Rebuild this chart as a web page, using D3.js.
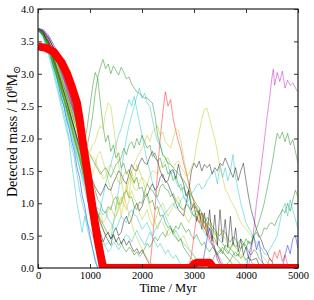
<!DOCTYPE html>
<html>
<head>
<meta charset="utf-8">
<script src="https://cdn.jsdelivr.net/npm/d3@7"></script>
<style>
  body { margin: 0; background: #fff; }
  svg text { font-family: "Liberation Serif", "DejaVu Serif", serif; fill: #000; }
</style>
</head>
<body>
<div id="graf"></div>
<script>
// axis ticks
const xTicks = [0, 1000, 2000, 3000, 4000, 5000]
const yTicks = [0, 0.5, 1, 1.5, 2, 2.5, 3, 3.5, 4]

// individual runs, [time (Myr), detected mass (1e8 Msun)]
const b1 = [[0,3.68],[100,3.64],[150,3.55],[200,3.38],[250,3.3],[300,3.1],[350,3.02],[400,2.8],[450,2.6],[500,2.5],[550,2.28],[600,2.15],[650,1.95],[700,1.8],[750,1.55],[800,1.4],[850,1.12],[900,0.95],[950,0.7],[1000,0.5],[1050,0.3],[1100,0.1],[1150,0]]
const b2 = [[0,3.7],[100,3.66],[200,3.52],[300,3.3],[400,3.12],[500,2.9],[600,2.62],[700,2.38],[800,2.0],[900,1.55],[1000,1.05],[1100,0.55],[1150,0.3],[1200,0.05],[1250,0],[3150,0],[3200,0.22],[3250,0.45],[3300,0.62],[3350,0.38],[3400,0.3],[3450,0.12],[3500,0.05],[3550,0],[4000,0],[4050,0.18],[4100,0.35],[4150,0.5],[4200,0.28],[4250,0.42],[4300,0.15],[4350,0],[4700,0],[4750,0.2],[4800,0.35],[4850,0.22],[4900,0.45],[4950,0.5],[5000,0.3]]
const b3 = [[0,3.7],[100,3.68],[200,3.6],[300,3.45],[400,3.3],[500,3.1],[600,2.9],[700,2.65],[800,2.35],[900,2.0],[1000,1.5],[1050,1.15],[1100,0.8],[1150,0.45],[1200,0.2],[1250,0]]
const g1 = [[0,3.7],[100,3.64],[200,3.5],[300,3.3],[400,3.1],[500,2.85],[600,2.6],[700,2.35],[800,2.15],[850,1.95],[900,1.85],[950,1.9],[1000,2.1],[1050,2.35],[1100,2.7],[1150,2.95],[1200,3.1],[1250,3.22],[1300,3.08],[1350,3.15],[1400,3.0],[1450,3.12],[1500,3.05],[1550,2.98],[1600,3.1],[1650,3.02],[1700,2.92],[1750,2.95],[1800,2.84],[1850,2.78],[1900,2.72],[1950,2.7],[2000,2.66],[2050,2.62],[2100,2.63],[2150,2.58],[2200,2.55],[2250,2.35],[2300,2.05],[2350,1.9],[2400,1.74],[2450,1.7],[2500,1.62],[2550,1.6],[2600,1.55],[2650,1.5],[2700,1.46],[2750,1.4],[2800,1.36],[2850,1.28],[2900,1.2],[2950,1.12],[3000,1.05],[3050,0.98],[3100,0.93],[3150,0.85],[3200,0.78],[3250,0.72],[3300,0.66],[3350,0.6],[3400,0.55],[3450,0.48],[3500,0.42],[3550,0.38],[3600,0.32],[3650,0.26],[3700,0.22],[3750,0.18],[3800,0.14],[3850,0.1],[3900,0.05],[3950,0]]
const g2 = [[0,3.7],[100,3.6],[200,3.42],[300,3.2],[400,3.0],[500,2.78],[600,2.5],[700,2.25],[800,2.05],[850,1.9],[900,1.95],[950,2.2],[1000,2.5],[1050,2.8],[1100,3.02],[1150,2.92],[1200,2.55],[1250,2.2],[1300,1.95],[1350,2.05],[1400,1.8],[1450,1.9],[1500,1.7],[1550,1.78],[1600,1.55],[1650,1.62],[1700,1.45],[1750,1.52],[1800,1.4],[1850,1.32],[1900,1.4],[1950,1.22],[2000,1.25],[2050,1.1],[2100,1.15],[2150,1.0],[2200,1.05],[2250,0.9],[2300,0.95],[2350,0.8],[2400,0.82],[2450,0.7],[2500,0.62],[2550,0.65],[2600,0.52],[2700,0.42],[2750,0.45],[2800,0.32],[2900,0.2],[3000,0.1],[3100,0]]
const g3 = [[0,3.66],[100,3.6],[200,3.4],[300,3.15],[400,2.9],[500,2.6],[600,2.3],[700,2.0],[800,1.7],[900,1.3],[1000,0.85],[1100,0.4],[1200,0.1],[1250,0],[3300,0],[3350,0.1],[3400,0.2],[3500,0.28],[3550,0.22],[3600,0.35],[3700,0.3],[3750,0.4],[3800,0.32],[3900,0.45],[3950,0.38],[4000,0.3],[4050,0.42],[4100,0.35],[4150,0.5],[4200,0.6],[4250,0.72],[4300,0.85],[4350,1.0],[4400,1.2],[4450,1.4],[4500,1.6],[4550,1.85],[4600,2.08],[4650,2.0],[4700,2.1],[4750,1.95],[4800,2.08],[4850,1.9],[4900,1.98],[4950,1.8],[5000,1.62]]
const g4 = [[0,3.69],[100,3.62],[200,3.45],[300,3.22],[400,2.95],[500,2.7],[600,2.42],[700,2.15],[800,1.85],[900,1.6],[1000,1.4],[1050,1.3],[1100,1.2],[1150,1.05],[1200,1.0],[1250,0.88],[1300,0.85],[1350,0.95],[1400,0.9],[1450,1.05],[1500,1.1],[1550,0.98],[1600,1.0],[1650,1.15],[1700,1.2],[1750,1.08],[1800,1.1],[1850,0.95],[1900,0.9],[1950,1.02],[2000,1.0],[2050,1.18],[2100,1.3],[2150,1.22],[2200,1.2],[2250,1.12],[2300,1.1],[2350,1.25],[2400,1.3],[2450,1.22],[2500,1.2],[2550,1.1],[2600,1.15],[2650,1.05],[2700,1.0],[2750,0.92],[2800,0.9],[2850,0.98],[2900,0.95],[2950,0.85],[3000,0.8],[3050,0.88],[3100,0.85],[3150,0.75],[3200,0.7],[3250,0.78],[3300,0.75],[3350,0.65],[3400,0.6],[3450,0.52],[3500,0.5],[3550,0.58],[3600,0.55],[3650,0.45],[3700,0.4],[3750,0.48],[3800,0.45],[3850,0.35],[3900,0.3],[3950,0.38],[4000,0.35],[4050,0.25],[4100,0.2],[4150,0.28],[4200,0.25],[4250,0.15],[4300,0.1],[4350,0.05],[4400,0]]
const g5 = [[0,3.7],[100,3.58],[200,3.38],[300,3.1],[400,2.85],[500,2.6],[600,2.38],[700,2.1],[800,1.8],[900,1.45],[1000,1.1],[1100,0.7],[1200,0.35],[1300,0.1],[1350,0],[3600,0],[3650,0.08],[3700,0.12],[3750,0.2],[3800,0.25],[3850,0.18],[3900,0.3],[3950,0.35],[4000,0.45],[4050,0.38],[4100,0.4],[4150,0.5],[4200,0.55],[4250,0.48],[4300,0.5],[4350,0.62],[4400,0.6],[4450,0.68],[4500,0.7],[4550,0.65],[4600,0.75],[4650,0.82],[4700,0.9],[4750,0.85],[4800,1.0],[4850,0.88],[4900,1.05],[4950,1.2],[5000,1.1]]
const g6 = [[0,3.68],[100,3.62],[200,3.48],[300,3.25],[400,3.05],[500,2.8],[600,2.55],[700,2.3],[800,2.1],[900,1.9],[1000,1.75],[1100,1.6],[1200,1.45],[1300,1.55],[1400,1.4],[1500,1.6],[1600,1.7],[1650,1.85],[1700,1.75],[1750,1.9],[1800,1.95],[1850,1.85],[1900,2.0],[1950,1.9],[2000,2.05],[2050,1.95],[2100,1.85],[2150,1.9],[2200,1.72],[2250,1.78],[2300,1.65],[2350,1.7],[2400,1.55],[2450,1.6],[2500,1.45],[2550,1.5],[2600,1.35],[2650,1.42],[2700,1.3],[2750,1.2],[2800,1.25],[2850,1.1],[2900,1.15],[2950,1.0],[3000,0.92],[3050,0.95],[3100,0.82],[3150,0.85],[3200,0.7],[3250,0.65],[3300,0.6],[3350,0.5],[3400,0.45],[3450,0.35],[3500,0.3],[3600,0.2],[3700,0.1],[3800,0]]
const g7 = [[0,3.66],[100,3.62],[200,3.5],[300,3.35],[400,3.18],[500,2.95],[600,2.72],[700,2.45],[800,2.15],[900,1.8],[1000,1.35],[1050,1.05],[1100,0.75],[1150,0.45],[1200,0.2],[1250,0]]
const g8 = [[0,3.68],[100,3.6],[200,3.45],[300,3.2],[400,2.95],[500,2.65],[600,2.35],[700,2.05],[800,1.75],[900,1.45],[1000,1.2],[1100,0.95],[1200,0.75],[1300,0.6],[1350,0.52],[1400,0.45],[1450,0.5],[1500,0.42],[1550,0.35],[1600,0.4],[1650,0.3],[1700,0.25],[1750,0.32],[1800,0.28],[1850,0.2],[1900,0.25],[1950,0.18],[2000,0.22],[2050,0.3],[2100,0.38],[2150,0.32],[2200,0.4],[2250,0.48],[2300,0.42],[2350,0.5],[2400,0.55],[2450,0.48],[2500,0.58],[2550,0.62],[2600,0.55],[2650,0.65],[2700,0.6],[2750,0.7],[2800,0.62],[2850,0.55],[2900,0.6],[2950,0.5],[3000,0.45],[3050,0.52],[3100,0.42],[3150,0.35],[3200,0.4],[3250,0.3],[3300,0.25],[3350,0.32],[3400,0.28],[3450,0.2],[3500,0.25],[3550,0.32],[3600,0.28],[3650,0.22],[3700,0.3],[3750,0.25],[3800,0.18],[3850,0.22],[3900,0.15],[3950,0.2],[4000,0.12],[4050,0.18],[4100,0.1],[4150,0.05],[4200,0]]
const y1 = [[0,3.7],[100,3.62],[200,3.45],[300,3.25],[400,3.0],[500,2.75],[600,2.5],[700,2.3],[800,2.1],[900,1.92],[950,1.85],[1000,1.8],[1050,1.9],[1100,1.95],[1150,2.1],[1200,2.2],[1250,2.15],[1300,2.4],[1350,2.55],[1400,2.5],[1450,2.2],[1500,1.9],[1550,1.6],[1600,1.35],[1650,1.15],[1700,0.95],[1750,0.85],[1800,0.7],[1850,0.55],[1900,0.48],[1950,0.38],[2000,0.3],[2100,0.15],[2200,0.05],[2300,0]]
const y2 = [[0,3.68],[100,3.6],[200,3.42],[300,3.2],[400,2.95],[500,2.7],[600,2.45],[700,2.2],[800,2.0],[900,1.85],[1000,1.75],[1100,1.68],[1150,1.55],[1200,1.5],[1250,1.38],[1300,1.4],[1350,1.55],[1400,1.6],[1450,1.5],[1500,1.45],[1550,1.32],[1600,1.3],[1650,1.45],[1700,1.5],[1750,1.4],[1800,1.35],[1850,1.22],[1900,1.2],[1950,1.32],[2000,1.4],[2050,1.35],[2100,1.3],[2150,1.42],[2200,1.5],[2250,1.48],[2300,1.45],[2350,1.55],[2400,1.6],[2450,1.68],[2500,1.7],[2550,1.6],[2600,1.55],[2650,1.62],[2700,1.65],[2750,1.55],[2800,1.5],[2850,1.42],[2900,1.45],[2950,1.55],[3000,1.65],[3050,1.9],[3100,2.1],[3150,2.3],[3200,2.45],[3250,2.47],[3300,2.3],[3350,2.15],[3400,2.0],[3450,1.8],[3500,1.55],[3550,1.4],[3600,1.22],[3650,1.15],[3700,1.05],[3750,0.98],[3800,0.9],[3850,0.8],[3900,0.7],[3950,0.65],[4000,0.6],[4050,0.55],[4100,0.5],[4150,0.42],[4200,0.35],[4250,0.28],[4300,0.2],[4350,0.15],[4400,0.1],[4450,0.05],[4500,0]]
const y3 = [[0,3.7],[100,3.66],[200,3.5],[300,3.3],[400,3.08],[500,2.82],[600,2.55],[700,2.25],[800,1.95],[900,1.6],[1000,1.3],[1050,1.45],[1100,1.6],[1150,1.75],[1200,1.8],[1250,1.65],[1300,1.5],[1350,1.35],[1400,1.2],[1450,1.05],[1500,0.9],[1550,1.1],[1600,0.8],[1650,1.0],[1700,1.3],[1750,1.1],[1800,1.5],[1850,1.3],[1900,1.6],[1950,1.5],[2000,1.4],[2050,1.25],[2100,1.1],[2150,0.95],[2200,0.8],[2250,0.7],[2300,0.6],[2350,0.72],[2400,0.7],[2450,0.6],[2500,0.5],[2550,0.55],[2600,0.6],[2650,0.5],[2700,0.4],[2750,0.45],[2800,0.5],[2850,0.4],[2900,0.3],[2950,0.25],[3000,0.2],[3050,0.1],[3100,0]]
const y4 = [[0,3.68],[100,3.6],[200,3.44],[300,3.2],[400,2.92],[500,2.62],[600,2.3],[700,1.98],[800,1.7],[900,1.45],[1000,1.2],[1100,0.9],[1200,0.7],[1300,0.5],[1400,0.6],[1500,0.8],[1600,1.0],[1700,1.2],[1800,1.5],[1900,1.7],[2000,1.85],[2050,1.95],[2100,2.05],[2150,1.95],[2200,2.1],[2250,2.15],[2300,2.2],[2350,2.05],[2400,2.1],[2450,1.95],[2500,1.9],[2550,1.85],[2600,2.0],[2650,2.15],[2700,2.12],[2750,1.95],[2800,1.7],[2850,1.5],[2900,1.3],[2950,1.15],[3000,1.0],[3100,0.8],[3200,0.62],[3300,0.5],[3400,0.4],[3500,0.3],[3600,0.2],[3700,0.1],[3800,0]]
const y5 = [[0,3.7],[100,3.68],[200,3.58],[300,3.42],[400,3.25],[500,3.05],[600,2.85],[700,2.6],[800,2.3],[900,2.05],[950,1.85],[1000,1.6],[1050,1.3],[1100,1.0],[1150,0.7],[1200,0.45],[1250,0.22],[1300,0.05],[1350,0]]
const y6 = [[0,3.7],[100,3.6],[200,3.4],[300,3.15],[400,2.88],[500,2.6],[600,2.3],[700,2.0],[800,1.7],[900,1.4],[1000,1.15],[1050,1.0],[1100,0.92],[1150,0.8],[1200,0.85],[1250,0.7],[1300,0.75],[1350,0.9],[1400,0.95],[1450,0.82],[1500,0.8],[1550,0.95],[1600,1.1],[1650,0.98],[1700,0.9],[1750,1.05],[1800,1.2],[1850,1.08],[1900,1.0],[1950,0.85],[2000,0.75],[2050,0.82],[2100,0.9],[2150,0.75],[2200,0.65],[2250,0.72],[2300,0.85],[2350,0.95],[2400,1.0],[2450,0.9],[2500,0.8],[2550,0.88],[2600,0.95],[2650,1.05],[2700,1.1],[2750,0.98],[2800,0.85],[2850,0.78],[2900,0.7],[2950,0.8],[3000,0.9],[3050,0.82],[3100,0.75],[3150,0.68],[3200,0.6],[3250,0.65],[3300,0.7],[3350,0.6],[3400,0.5],[3450,0.55],[3500,0.6],[3550,0.52],[3600,0.45],[3650,0.38],[3700,0.3],[3750,0.35],[3800,0.32],[3850,0.25],[3900,0.2],[3950,0.15],[4000,0.1],[4050,0.05],[4100,0]]
const c1 = [[0,3.7],[100,3.62],[200,3.4],[300,3.15],[400,2.85],[500,2.55],[600,2.25],[700,1.95],[800,1.65],[900,1.35],[1000,1.05],[1100,0.8],[1200,0.55],[1250,0.42],[1300,0.35],[1350,0.4],[1400,0.45],[1450,0.7],[1500,0.95],[1550,1.2],[1600,1.5],[1650,1.75],[1700,2.0],[1750,2.2],[1800,2.35],[1850,2.5],[1900,2.65],[1950,2.78],[2000,2.62],[2050,2.7],[2100,2.55],[2150,2.5],[2200,2.3],[2250,2.1],[2300,1.95],[2350,1.9],[2400,1.75],[2450,1.7],[2500,1.6],[2550,1.45],[2600,1.5],[2650,1.35],[2700,1.25],[2750,1.3],[2800,1.1],[2850,1.05],[2900,0.95],[2950,0.9],[3000,0.8],[3050,0.78],[3100,0.7],[3150,0.62],[3200,0.55],[3250,0.48],[3300,0.4],[3350,0.35],[3400,0.3],[3450,0.22],[3500,0.15],[3550,0.08],[3600,0]]
const c2 = [[0,3.69],[100,3.6],[200,3.4],[300,3.12],[400,2.8],[500,2.48],[600,2.15],[700,1.85],[800,1.55],[900,1.3],[1000,1.1],[1100,0.95],[1200,0.9],[1250,0.82],[1300,0.88],[1350,0.75],[1400,0.7],[1450,0.62],[1500,0.6],[1550,0.7],[1600,0.8],[1650,0.75],[1700,0.7],[1750,0.85],[1800,0.9],[1850,0.82],[1900,0.8],[1950,0.7],[2000,0.6],[2050,0.65],[2100,0.7],[2150,0.6],[2200,0.5],[2250,0.58],[2300,0.65],[2350,0.72],[2400,0.8],[2450,0.85],[2500,0.9],[2550,0.95],[2600,1.0],[2650,0.92],[2700,0.95],[2750,1.05],[2800,1.1],[2850,1.02],[2900,1.05],[2950,1.15],[3000,1.2],[3050,1.28],[3100,1.3],[3150,1.22],[3200,1.25],[3250,1.35],[3300,1.4],[3350,1.48],[3400,1.5],[3450,1.3],[3500,1.6],[3550,1.4],[3600,1.55],[3650,1.35],[3700,1.5],[3750,1.75],[3800,1.4],[3850,1.2],[3900,1.0],[3950,0.85],[4000,0.7],[4050,0.62],[4100,0.55],[4150,0.45],[4200,0.4],[4250,0.35],[4300,0.3],[4350,0.22],[4400,0.2],[4450,0.28],[4500,0.35],[4550,0.42],[4600,0.5],[4650,0.7],[4700,0.9],[4750,1.0],[4800,0.8],[4850,1.05],[4900,0.9],[4950,0.75],[5000,0.6]]
const c3 = [[0,3.7],[100,3.55],[200,3.3],[300,3.0],[400,2.65],[500,2.3],[600,1.95],[650,1.6],[700,1.3],[750,1.0],[800,0.78],[850,0.55],[900,0.8],[950,0.6],[1000,0.45],[1050,0.3],[1100,0.15],[1150,0]]
const c4 = [[0,3.68],[100,3.58],[200,3.36],[300,3.1],[400,2.82],[500,2.5],[600,2.2],[700,1.9],[800,1.55],[900,1.2],[1000,0.9],[1100,0.62],[1150,0.75],[1200,0.9],[1250,1.1],[1300,1.3],[1350,1.45],[1400,1.6],[1450,1.75],[1500,1.9],[1550,2.05],[1600,2.15],[1650,2.3],[1700,2.45],[1750,2.6],[1800,2.5],[1850,2.65],[1900,2.45],[1950,2.25],[2000,2.05],[2050,1.85],[2100,1.65],[2150,1.5],[2200,1.32],[2250,1.2],[2300,1.05],[2350,0.98],[2400,0.9],[2450,0.8],[2500,0.7],[2550,0.62],[2600,0.52],[2650,0.58],[2700,0.5],[2750,0.42],[2800,0.38],[2900,0.28],[3000,0.18],[3100,0.1],[3200,0]]
const c5 = [[0,3.7],[100,3.58],[200,3.36],[300,3.05],[400,2.72],[500,2.38],[600,2.02],[700,1.7],[750,1.45],[800,1.2],[850,1.0],[900,0.85],[950,0.7],[1000,0.6],[1050,0.5],[1100,0.42],[1150,0.35],[1200,0.3],[1250,0.38],[1300,0.32],[1350,0.25],[1400,0.3],[1450,0.4],[1500,0.35],[1550,0.28],[1600,0.35],[1650,0.45],[1700,0.52],[1750,0.48],[1800,0.4],[1850,0.5],[1900,0.58],[1950,0.5],[2000,0.42],[2050,0.35],[2100,0.45],[2150,0.55],[2200,0.48],[2250,0.4],[2300,0.32],[2350,0.38],[2400,0.3],[2450,0.22],[2500,0.28],[2550,0.2],[2600,0.15],[2650,0.2],[2700,0.12],[2750,0.05],[2800,0]]
const r1 = [[0,3.69],[100,3.62],[200,3.5],[300,3.35],[400,3.15],[500,2.92],[600,2.66],[700,2.4],[800,2.08],[900,1.62],[1000,1.15],[1050,0.9],[1100,0.62],[1150,0.35],[1200,0.12],[1250,0],[2150,0],[2200,0.4],[2250,0.9],[2300,1.5],[2350,2.0],[2400,2.4],[2450,2.72],[2500,2.5],[2550,2.6],[2600,2.3],[2650,2.12],[2700,1.95],[2750,1.82],[2800,1.62],[2850,1.48],[2900,1.3],[2950,1.15],[3000,1.02],[3050,0.9],[3100,0.82],[3150,0.7],[3200,0.62],[3250,0.52],[3300,0.45],[3350,0.35],[3400,0.26],[3450,0.2],[3500,0.1],[3550,0.05],[3600,0]]
const r2 = [[0,3.68],[100,3.64],[200,3.55],[300,3.4],[400,3.2],[500,2.95],[600,2.7],[700,2.42],[800,2.15],[900,1.8],[1000,1.4],[1100,0.9],[1150,0.6],[1200,0.3],[1250,0.05],[1300,0],[2900,0],[2950,0.2],[3000,0.5],[3050,0.8],[3100,0.7],[3150,0.85],[3200,0.6],[3250,0.7],[3300,0.45],[3350,0.5],[3400,0.3],[3450,0.2],[3500,0.1],[3550,0],[4400,0],[4450,0.15],[4500,0.1],[4550,0.25],[4600,0.15],[4650,0.28],[4700,0.1],[4750,0.2],[4800,0.05],[4850,0]]
const m1 = [[0,3.68],[100,3.66],[200,3.55],[300,3.38],[400,3.15],[500,2.92],[600,2.68],[700,2.4],[800,2.05],[900,1.6],[1000,1.1],[1050,0.85],[1100,0.55],[1150,0.3],[1200,0.1],[1250,0],[4000,0],[4050,0.03],[4100,0.25],[4150,0.6],[4200,1.0],[4250,1.3],[4300,1.62],[4350,1.95],[4400,2.3],[4450,2.6],[4500,2.95],[4525,3.07],[4550,2.82],[4600,3.02],[4650,2.88],[4700,3.04],[4750,2.78],[4800,2.9],[4850,2.82],[4900,2.86],[4950,2.78],[5000,2.72]]
const m2 = [[0,3.7],[100,3.67],[200,3.56],[300,3.4],[400,3.2],[500,2.98],[600,2.72],[700,2.45],[800,2.15],[900,1.8],[1000,1.35],[1050,1.05],[1100,0.7],[1150,0.4],[1200,0.15],[1250,0]]
const k1 = [[0,3.69],[100,3.6],[200,3.42],[300,3.2],[400,2.95],[500,2.7],[600,2.42],[700,2.15],[800,1.9],[900,1.65],[1000,1.45],[1100,1.25],[1200,1.12],[1250,1.2],[1300,1.3],[1350,1.22],[1400,1.2],[1450,1.32],[1500,1.4],[1550,1.5],[1600,1.45],[1650,1.35],[1700,1.3],[1750,1.45],[1800,1.6],[1850,1.52],[1900,1.5],[1950,1.62],[2000,1.7],[2050,1.62],[2100,1.6],[2150,1.72],[2200,1.8],[2250,1.7],[2300,1.65],[2350,1.5],[2400,1.4],[2450,1.35],[2500,1.3],[2550,1.2],[2600,1.1],[2650,1.0],[2700,0.9],[2750,0.85],[2800,0.8],[2850,1.0],[2900,1.2],[2950,1.5],[3000,1.62],[3050,1.55],[3100,1.65],[3150,1.5],[3200,1.6],[3250,1.55],[3300,1.6],[3350,1.45],[3400,1.55],[3450,1.5],[3500,1.62],[3550,1.58],[3600,1.7],[3650,1.6],[3700,1.5],[3750,1.4],[3800,1.55],[3850,1.35],[3900,1.5],[3950,1.62],[4000,1.35],[4050,1.1],[4100,0.9],[4150,0.75],[4200,0.6],[4250,0.5],[4300,0.42],[4350,0.3],[4400,0.25],[4450,0.15],[4500,0.1],[4550,0]]
const k2 = [[0,3.7],[100,3.62],[200,3.44],[300,3.18],[400,2.9],[500,2.6],[600,2.3],[700,2.0],[800,1.7],[900,1.4],[1000,1.1],[1100,0.8],[1200,0.55],[1250,0.4],[1300,0.5],[1350,0.42],[1400,0.35],[1450,0.55],[1500,0.62],[1550,0.5],[1600,0.55],[1650,0.72],[1700,0.8],[1750,0.68],[1800,0.75],[1850,0.92],[1900,1.0],[1950,0.88],[2000,0.95],[2050,1.08],[2100,1.12],[2150,1.22],[2200,1.3],[2250,1.2],[2300,1.25],[2350,1.4],[2400,1.45],[2450,1.32],[2500,1.35],[2550,1.5],[2600,1.52],[2650,1.38],[2700,1.6],[2750,1.42],[2800,1.3],[2850,1.12],[2900,1.2],[2950,0.9],[3000,1.0],[3050,0.72],[3100,0.9],[3150,0.6],[3200,0.85],[3250,0.5],[3300,0.9],[3350,0.42],[3400,0.82],[3450,0.35],[3500,0.9],[3550,0.4],[3600,0.75],[3650,0.32],[3700,0.8],[3750,0.35],[3800,0.62],[3850,0.25],[3900,0.45],[3950,0.2],[4000,0.32],[4050,0.15],[4100,0.12],[4200,0.15],[4250,0.05],[4300,0]]
const k3 = [[0,3.68],[100,3.66],[200,3.56],[300,3.4],[400,3.22],[500,3.0],[600,2.76],[700,2.5],[800,2.2],[900,1.85],[950,1.6],[1000,1.3],[1050,1.0],[1100,0.7],[1150,0.4],[1200,0.15],[1250,0]]
const k4 = [[0,3.7],[100,3.63],[200,3.48],[300,3.25],[400,3.0],[500,2.72],[600,2.45],[700,2.15],[800,1.85],[900,1.55],[1000,1.25],[1100,0.95],[1200,0.7],[1250,0.6],[1300,0.5],[1350,0.55],[1400,0.45],[1450,0.52],[1500,0.4],[1550,0.48],[1600,0.38],[1650,0.45],[1700,0.35],[1750,0.42],[1800,0.32],[1850,0.25],[1900,0.3],[1950,0.22],[2000,0.28],[2050,0.2],[2100,0.12],[2150,0.05],[2200,0]]

// mean detected mass (thick red curve)
const meanRun = [[0,3.42],[150,3.4],[300,3.34],[450,3.18],[550,3.02],[650,2.8],[750,2.55],[800,2.3],[850,2.0],[950,1.47],[1050,0.92],[1150,0.42],[1250,0],[2950,0],[3000,0.06],[3050,0.08],[3300,0.08],[3380,0],[5000,0]]

const runs = [
  { data: b1, color: '#0000ff' }, { data: g7, color: '#008000' }, { data: r2, color: '#ff0000' },
  { data: c3, color: '#00bfbf' }, { data: m2, color: '#bf00bf' }, { data: y5, color: '#bfbf00' },
  { data: k3, color: '#000000' }, { data: b3, color: '#0000ff' }, { data: g4, color: '#008000' },
  { data: c4, color: '#00bfbf' }, { data: y3, color: '#bfbf00' }, { data: k2, color: '#000000' },
  { data: b2, color: '#0000ff' }, { data: g2, color: '#008000' }, { data: r1, color: '#ff0000' },
  { data: c2, color: '#00bfbf' }, { data: m1, color: '#bf00bf' }, { data: y4, color: '#bfbf00' },
  { data: k1, color: '#000000' }, { data: g6, color: '#008000' }, { data: c1, color: '#00bfbf' },
  { data: y2, color: '#bfbf00' }, { data: g3, color: '#008000' }, { data: g5, color: '#008000' },
  { data: y1, color: '#bfbf00' }, { data: g1, color: '#008000' }, { data: y6, color: '#bfbf00' },
  { data: c5, color: '#00bfbf' }, { data: g8, color: '#008000' }, { data: k4, color: '#000000' }
]

const ancho = 314
const alto = 300
const margins = { left: 38, top: 9, right: 16, bottom: 32 }

const svg = d3.select('#graf').append('svg')
  .attr('width', ancho)
  .attr('height', alto)

const x = d3.scaleLinear().domain([0, 5000]).range([margins.left, ancho - margins.right])
const y = d3.scaleLinear().domain([0, 4]).range([alto - margins.bottom, margins.top])

svg.append('clipPath').attr('id', 'clip')
  .append('rect')
  .attr('x', x(0)).attr('y', y(4))
  .attr('width', x(5000) - x(0)).attr('height', y(0) - y(4))

const line = d3.line().x(d => x(d[0])).y(d => y(d[1]))

const plot = svg.append('g').attr('clip-path', 'url(#clip)')

plot.selectAll('path.run')
  .data(runs)
  .enter()
  .append('path')
  .attr('class', 'run')
  .attr('d', d => line(d.data))
  .attr('fill', 'none')
  .attr('stroke', d => d.color)
  .attr('stroke-opacity', 0.55)
  .attr('stroke-width', 0.8)

plot.append('path')
  .attr('d', line(meanRun))
  .attr('fill', 'none')
  .attr('stroke', '#ff0000')
  .attr('stroke-width', 8)
  .attr('stroke-linejoin', 'round')

// axes, ticks pointing inward
const style = g => {
  g.select('.domain').remove()
  g.selectAll('line').attr('stroke', '#000').attr('stroke-width', 0.8)
  g.selectAll('text').attr('font-size', 10.5).attr('font-family', '"Liberation Serif", serif')
}

svg.append('g')
  .attr('transform', `translate(0, ${y(0)})`)
  .call(d3.axisBottom(x).tickValues(xTicks).tickFormat(d3.format('d')).tickSize(-4).tickPadding(4))
  .call(style)

svg.append('g')
  .attr('transform', `translate(0, ${y(4)})`)
  .call(d3.axisTop(x).tickValues(xTicks).tickFormat('').tickSize(-4))
  .call(style)

svg.append('g')
  .attr('transform', `translate(${x(0)}, 0)`)
  .call(d3.axisLeft(y).tickValues(yTicks).tickFormat(d3.format('.1f')).tickSize(-4).tickPadding(4))
  .call(style)

svg.append('g')
  .attr('transform', `translate(${x(5000)}, 0)`)
  .call(d3.axisRight(y).tickValues(yTicks).tickFormat('').tickSize(-4))
  .call(style)

svg.append('rect')
  .attr('x', x(0)).attr('y', y(4))
  .attr('width', x(5000) - x(0)).attr('height', y(0) - y(4))
  .attr('fill', 'none')
  .attr('stroke', '#222')
  .attr('stroke-width', 1.2)

svg.append('text')
  .attr('x', (x(0) + x(5000)) / 2)
  .attr('y', 292)
  .attr('text-anchor', 'middle')
  .attr('font-size', 12.5)
  .text('Time / Myr')

const yLab = svg.append('text')
  .attr('transform', `translate(17, 197) rotate(-90)`)
  .attr('text-anchor', 'start')
  .attr('font-size', 14)
yLab.append('tspan').text('Detected mass / 10')
yLab.append('tspan').attr('dy', -5).attr('font-size', 9).text('8')
yLab.append('tspan').attr('dy', 5).text('M')
yLab.append('tspan').attr('dy', 3).attr('font-size', 10).attr('font-family', '"DejaVu Serif", serif').text('\u2299')
</script>
</body>
</html>
